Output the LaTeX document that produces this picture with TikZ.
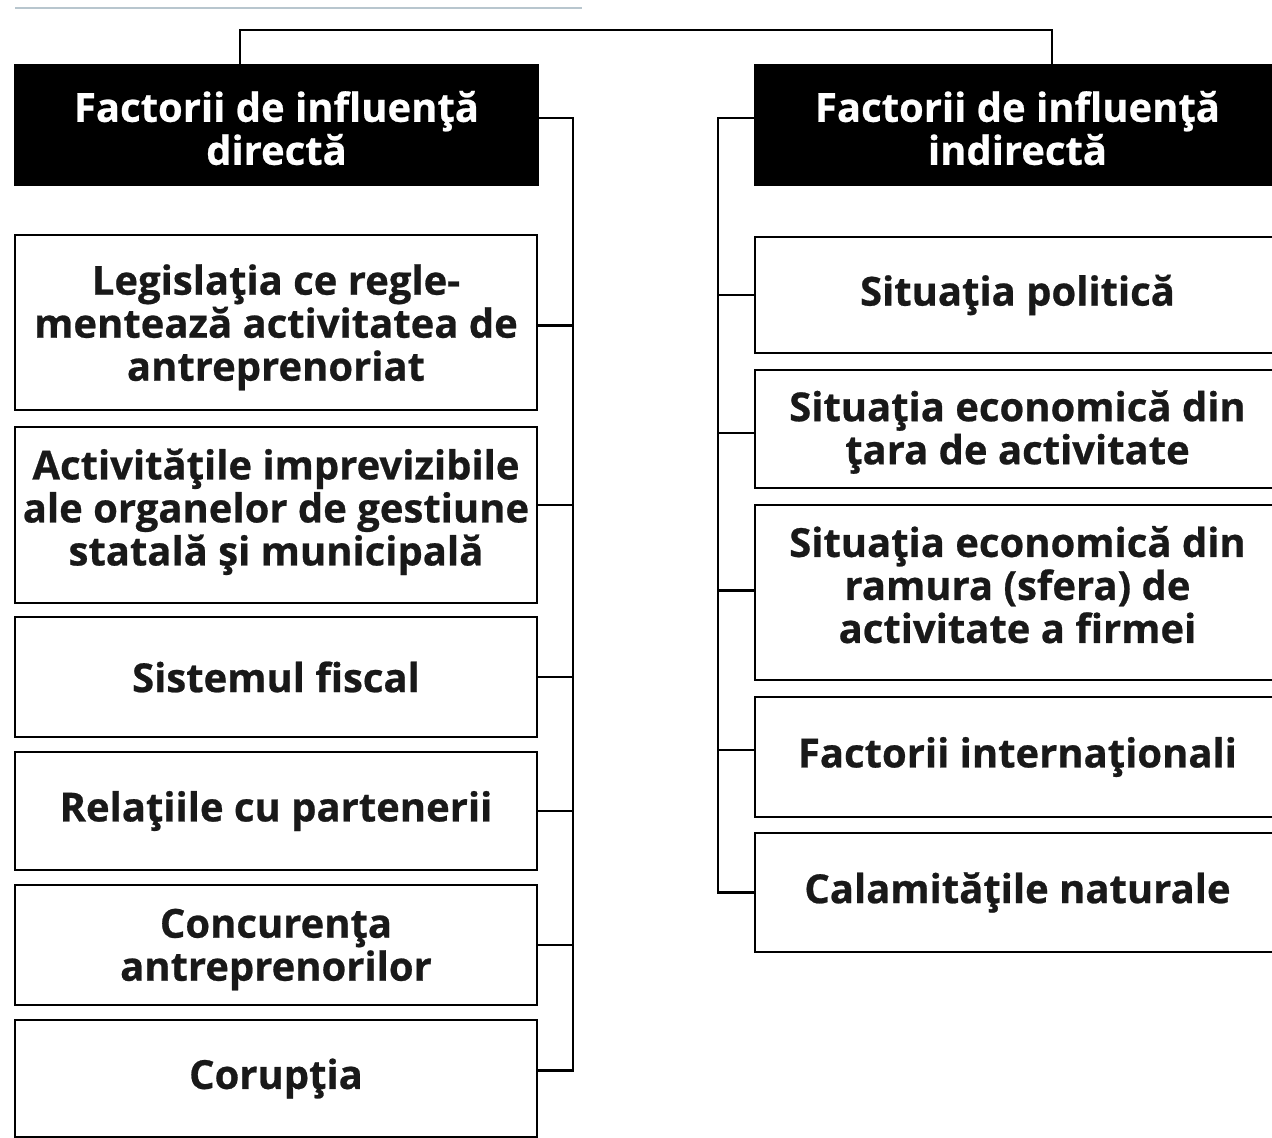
\documentclass[tikz,border=0pt]{standalone}
\usepackage{fontspec}
\setmainfont{Open Sans}[BoldFeatures={FakeBold=0.6}]
% struts that nudge a text block down (padtop) or up (padbot) inside its frame
\newcommand\padtop[1]{\rule{0pt}{#1}}
\newcommand\padbot[1]{\rule[-#1]{0pt}{#1}}
\begin{document}
\begin{tikzpicture}[x=1pt,y=-1pt,
  txt/.style={font=\bfseries\fontsize{40}{43}\selectfont, align=center, inner sep=0pt},
  box/.style={txt, draw=black, line width=2.8pt, fill=white, text=black!90},
  head/.style={txt, draw=black, line width=2pt, fill=black, text=white},
  link/.style={draw=black, line width=2.4pt, line join=miter}]
\clip (0,0) rectangle (1272,1138);
\fill[white] (0,0) rectangle (1272,1138);
% thin rule along the top edge
\draw[line width=2pt, color={rgb,255:red,184;green,198;blue,206}] (15,8) -- (582,8);

% headers
\node[head, minimum width=523pt, minimum height=120pt] (lh) at (276.5,125)
  {\padtop{37pt}Factorii de influenţă\\directă};
\node[head, minimum width=525pt, minimum height=120pt] (rh) at (1017.5,125)
  {\padtop{37pt}Factorii de influenţă\\indirectă};

% left column
\node[box, minimum width=522pt, minimum height=175pt] (l1) at (276,322.5)
  {\padtop{40pt}Legislaţia ce regle-\\mentează activitatea de\\antreprenoriat};
\node[box, minimum width=522pt, minimum height=176pt] (l2) at (276,515)
  {Activităţile imprevizibile\\ale organelor de gestiune\\statală şi municipală\padbot{16pt}};
\node[box, minimum width=522pt, minimum height=120pt] (l3) at (276,677)
  {Sistemul fiscal};
\node[box, minimum width=522pt, minimum height=118pt] (l4) at (276,811)
  {Relaţiile cu partenerii};
\node[box, minimum width=522pt, minimum height=120pt] (l5) at (276,945)
  {\padtop{38pt}Concurenţa\\antreprenorilor};
\node[box, minimum width=522pt, minimum height=117pt] (l6) at (276,1078.5)
  {Corupţia};

% right column
\node[box, minimum width=525pt, minimum height=116pt] (r1) at (1017.5,295)
  {Situaţia politică};
\node[box, minimum width=525pt, minimum height=118pt] (r2) at (1017.5,429)
  {\padtop{37pt}Situaţia economică din\\ţara de activitate};
\node[box, minimum width=525pt, minimum height=175pt] (r3) at (1017.5,592.5)
  {Situaţia economică din\\ramura (sfera) de\\activitate a firmei\padbot{16pt}};
\node[box, minimum width=525pt, minimum height=120pt] (r4) at (1017.5,757)
  {Factorii internaţionali};
\node[box, minimum width=525pt, minimum height=119pt] (r5) at (1017.5,892.5)
  {Calamităţile naturale};

% bus lines
\coordinate (lbus) at (573,0);
\coordinate (rbus) at (718,0);
\coordinate (tl) at (240,30);
\coordinate (tr) at (1052,30);

\draw[link] (lh.north -| tl) -- (tl) -- (tr) -- (rh.north -| tr);

% left bus: from the header down to the last box
\draw[link] ([yshift=7pt]lh.east) -- ([yshift=7pt]lh.east -| lbus)
  -- ([yshift=8pt]l6.east -| lbus) -- ([yshift=8pt]l6.east);
\foreach \n/\dy in {l1/-3,l2/10,l3/0,l4/0,l5/0}
  \draw[link] ([yshift=\dy pt]\n.east) -- ([yshift=\dy pt]\n.east -| lbus);

% right bus: from the header down to the last box
\draw[link] ([yshift=7pt]rh.west) -- ([yshift=7pt]rh.west -| rbus)
  -- (r5.west -| rbus) -- (r5.west);
\foreach \n/\dy in {r1/0,r2/-4,r3/2,r4/7}
  \draw[link] ([yshift=\dy pt]\n.west) -- ([yshift=\dy pt]\n.west -| rbus);
\end{tikzpicture}
\end{document}
